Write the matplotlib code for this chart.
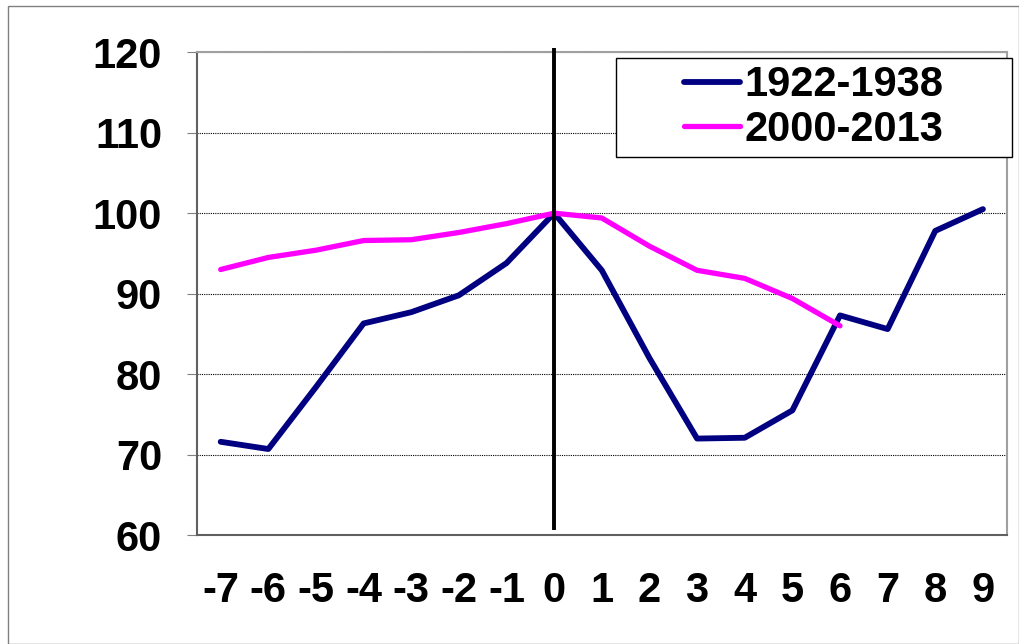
import matplotlib.pyplot as plt
from matplotlib.patches import Rectangle

# années relatives au pic (0 = sommet)
years = [-7, -6, -5, -4, -3, -2, -1, 0, 1, 2, 3, 4, 5, 6, 7, 8, 9]
s_1922 = [71.6, 70.7, 78.4, 86.3, 87.7, 89.8, 93.8, 100.0, 92.9, 82.0,
          72.0, 72.1, 75.5, 87.3, 85.6, 97.8, 100.5]
years_2000 = [-7, -6, -5, -4, -3, -2, -1, 0, 1, 2, 3, 4, 5, 6]
s_2000 = [93.0, 94.5, 95.4, 96.6, 96.7, 97.6, 98.7, 100.0, 99.4, 95.9,
          92.9, 91.9, 89.4, 86.0]
labels = ["1922-1938", "2000-2013"]

plt.rcParams['font.family'] = ['Liberation Sans', 'DejaVu Sans']
plt.rcParams['font.weight'] = 'bold'
plt.rcParams['axes.unicode_minus'] = False

fig = plt.figure(figsize=(10.2, 6.44), dpi=100)
ax = fig.add_axes([0.193, 0.169, 0.794, 0.75])

# cadre extérieur gris
fig.patches.append(Rectangle((0.008, 0.0), 0.991, 0.99, transform=fig.transFigure,
                             fill=False, edgecolor='#808080', linewidth=1))

ax.plot(years, s_1922, color='#000080', linewidth=4.2, label=labels[0],
        solid_capstyle='round', zorder=3)
ax.plot(years_2000, s_2000, color='#ff00ff', linewidth=3.8, label=labels[1],
        solid_capstyle='round', zorder=3)

# ligne verticale à 0
ax.plot([0, 0], [60.6, 120.5], color='black', linewidth=2.8, zorder=4,
        solid_capstyle='butt', clip_on=False)

ax.set_xlim(-7.5, 9.5)
ax.set_ylim(60, 120)
ax.set_xticks(years)
ax.set_yticks(range(60, 121, 10))
ax.tick_params(axis='x', length=0, pad=26, labelsize=30)
ax.tick_params(axis='y', length=7, direction='out', color='#808080',
               pad=18, labelsize=30)
for t in ax.get_xticklabels() + ax.get_yticklabels():
    t.set_fontweight('bold')

ax.grid(axis='y', color='black', linestyle=(0, (1, 1)), linewidth=0.8)
for s in ax.spines.values():
    s.set_color('#a0a0a0')
    s.set_linewidth(1.5)
ax.spines['left'].set_color('#606060')
ax.spines['bottom'].set_color('#606060')

# cadre de la légende
ax.add_patch(Rectangle((0.517, 0.783), 0.489, 0.205, transform=ax.transAxes,
                       facecolor='white', edgecolor='black', linewidth=1,
                       clip_on=False, zorder=5))
leg = ax.legend(loc='center', bbox_to_anchor=(0.7615, 0.8855),
                prop={'size': 30, 'weight': 'bold'}, frameon=False,
                handlelength=1.35, handletextpad=0.1,
                borderpad=0, labelspacing=0.1, borderaxespad=0)
leg.set_zorder(6)

fig.savefig('out.png', dpi=100)
